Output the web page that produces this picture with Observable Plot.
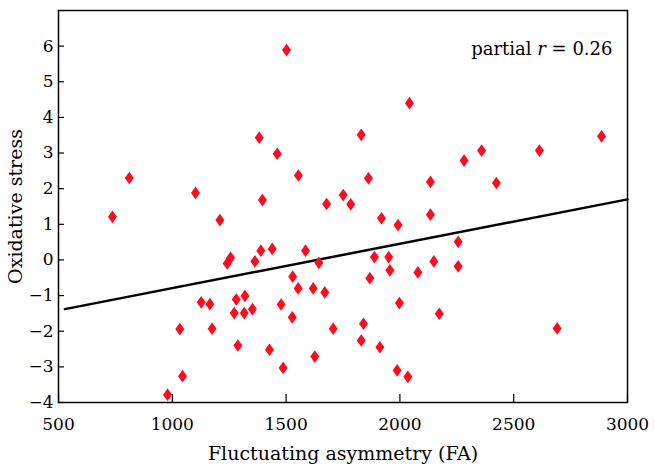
<!DOCTYPE html>
<html>
<head>
<meta charset="utf-8">
<script src="https://cdn.jsdelivr.net/npm/d3@7"></script>
<script src="https://cdn.jsdelivr.net/npm/@observablehq/plot@0.6"></script>
<style>
  html, body { margin: 0; padding: 0; background: #fff; }
</style>
</head>
<body>
<div id="chart"></div>
<script>
// Fluctuating asymmetry (FA) values
const fa = [737, 811, 979, 1033, 1045, 1102, 1127, 1165, 1175, 1209,
            1241, 1256, 1272, 1281, 1288, 1316, 1319, 1352, 1363, 1382,
            1389, 1396, 1427, 1439, 1461, 1478, 1487, 1502, 1527, 1529,
            1553, 1554, 1585, 1619, 1626, 1644, 1670, 1678, 1707, 1751,
            1784, 1830, 1830, 1840, 1862, 1868, 1888, 1912, 1919, 1951,
            1956, 1988, 1992, 1998, 2035, 2042, 2079, 2134, 2134, 2149,
            2173, 2256, 2256, 2282, 2359, 2424, 2613, 2691, 2886];
// Oxidative stress values
const os = [1.21, 2.30, -3.78, -1.94, -3.26, 1.88, -1.19, -1.24, -1.93, 1.12,
            -0.10, 0.06, -1.49, -1.11, -2.40, -1.49, -1.01, -1.38, -0.04, 3.43,
            0.26, 1.68, -2.52, 0.31, 2.98, -1.25, -3.03, 5.89, -1.61, -0.47,
            -0.80, 2.37, 0.26, -0.80, -2.71, -0.08, -0.91, 1.57, -1.93, 1.82,
            1.56, 3.51, -2.26, -1.79, 2.29, -0.51, 0.08, -2.45, 1.17, 0.08,
            -0.29, -3.10, 0.98, -1.21, -3.28, 4.40, -0.35, 2.19, 1.27, -0.04,
            -1.51, 0.51, -0.18, 2.79, 3.07, 2.16, 3.07, -1.92, 3.47];
// Fitted (partial regression) line end points
const fitX = [528, 3000];
const fitY = [-1.38, 1.70];
// Tick labels
const xTicks = [500, 1000, 1500, 2000, 2500, 3000];
const yTicks = [-4, -3, -2, -1, 0, 1, 2, 3, 4, 5, 6];
const xLabel = "Fluctuating asymmetry (FA)";
const yLabel = "Oxidative stress";
const annotPrefix = "partial ";
const annotVar = "r";
const annotValue = " = 0.26";

const points = fa.map((x, i) => ({x, y: os[i]}));
const fit = fitX.map((x, i) => ({x, y: fitY[i]}));

// tall diamond symbol
const tallDiamond = {
  draw(context, size) {
    const r = Math.sqrt(size / Math.PI);
    const hw = r * 0.9, hh = r * 1.27;
    context.moveTo(0, -hh);
    context.lineTo(hw, 0);
    context.lineTo(0, hh);
    context.lineTo(-hw, 0);
    context.closePath();
  }
};

const FONT = "DejaVu Serif";
const annotText = annotPrefix + annotVar + annotValue;
const minus = d => String(d).replace("-", "\u2212");

const plot = Plot.plot({
  width: 654,
  height: 466,
  marginLeft: 58,
  marginRight: 27,
  marginTop: 10,
  marginBottom: 64,
  style: {fontFamily: FONT, fontSize: "17px", color: "black", background: "white"},
  x: {domain: [500, 3000]},
  y: {domain: [-4, 7]},
  marks: [
    Plot.axisX({ticks: xTicks, tickSize: -8, text: null, label: null, stroke: "black", strokeWidth: 1.2}),
    Plot.axisX({ticks: xTicks, tickSize: 0, tickPadding: 15, tickFormat: minus, label: null, fontSize: 17, fill: "black"}),
    Plot.axisX({ticks: [], tickSize: 0, label: xLabel, labelArrow: "none", labelAnchor: "center", labelOffset: 57, fontSize: 19, fill: "black"}),
    Plot.axisY({ticks: yTicks, tickSize: -6, text: null, label: null, stroke: "black", strokeWidth: 1.2}),
    Plot.axisY({ticks: yTicks, tickSize: 0, tickPadding: 5, tickFormat: minus, label: null, fontSize: 17, fill: "black"}),
    Plot.axisY({ticks: [], tickSize: 0, label: yLabel, labelArrow: "none", labelAnchor: "center", labelOffset: 50, fontSize: 19, fill: "black"}),
    Plot.line(fit, {x: "x", y: "y", stroke: "black", strokeWidth: 2.5}),
    Plot.dot(points, {x: "x", y: "y", symbol: tallDiamond, r: 5, fill: "#ff0a1e", stroke: "none"}),
    Plot.text([annotText], {text: d => d, frameAnchor: "top-right", dx: -15, dy: 32, lineAnchor: "top", textAnchor: "end", fontSize: 18, fill: "black"}),
    Plot.frame({stroke: "black", strokeWidth: 1.5})
  ]
});

// italicise the variable name in the annotation
plot.querySelectorAll("text").forEach(t => {
  if (t.textContent === annotText) {
    const target = t.querySelector("tspan") || t;
    target.textContent = "";
    const ns = "http://www.w3.org/2000/svg";
    const a = document.createElementNS(ns, "tspan"); a.textContent = annotPrefix;
    const b = document.createElementNS(ns, "tspan"); b.textContent = annotVar; b.setAttribute("font-style", "italic");
    const c = document.createElementNS(ns, "tspan"); c.textContent = annotValue;
    target.append(a, b, c);
  }
});

document.getElementById("chart").append(plot);
</script>
</body>
</html>
